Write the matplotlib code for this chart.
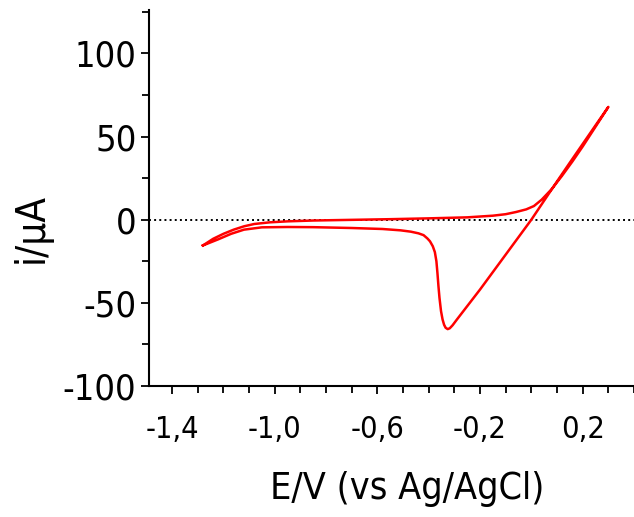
import matplotlib.pyplot as plt
from matplotlib.ticker import FixedLocator, MultipleLocator, FuncFormatter

# forward scan (cathodic end -> anodic vertex)
E_fwd = [-1.28, -1.24, -1.20, -1.16, -1.12, -1.08, -1.02, -0.95, -0.85, -0.70,
         -0.55, -0.40, -0.25, -0.15, -0.10, -0.06, -0.02, 0.01, 0.04, 0.08,
         0.12, 0.16, 0.20, 0.24, 0.28, 0.30]
i_fwd = [-15.5, -11.5, -8.5, -6.0, -4.0, -2.6, -1.6, -1.0, -0.5, -0.1,
         0.3, 0.8, 1.4, 2.4, 3.3, 4.6, 6.2, 8.2, 12.0, 18.5,
         26.5, 35.0, 44.0, 53.5, 63.0, 67.8]

# reverse scan (anodic vertex -> cathodic end)
E_rev = [0.30, 0.25, 0.20, 0.15, 0.10, 0.05, 0.00, -0.05, -0.10, -0.15,
         -0.20, -0.25, -0.27, -0.29, -0.307, -0.318, -0.326, -0.334, -0.340, -0.346,
         -0.352, -0.358, -0.362, -0.366, -0.370, -0.376, -0.384, -0.395, -0.405, -0.42,
         -0.44, -0.47, -0.51, -0.58, -0.70, -0.85, -0.95, -1.05, -1.12, -1.17,
         -1.22, -1.28]
i_rev = [67.8, 56.7, 45.5, 34.3, 23.0, 11.5, 0.0, -10.5, -21.0, -31.5,
         -42.0, -52.0, -56.0, -60.0, -63.5, -65.3, -65.8, -65.0, -63.2, -60.0,
         -55.0, -47.0, -40.0, -32.0, -25.0, -19.5, -16.0, -13.0, -11.3, -9.3,
         -8.2, -7.2, -6.4, -5.6, -5.0, -4.5, -4.4, -4.6, -6.0, -8.5,
         -11.8, -15.5]

xticks = [-1.4, -1.0, -0.6, -0.2, 0.2]
xtick_labels = ['-1,4', '-1,0', '-0,6', '-0,2', '0,2']
yticks = [-100, -50, 0, 50, 100]

plt.rcParams['font.family'] = ['DejaVu Sans']
plt.rcParams['font.stretch'] = 'condensed'
plt.rcParams['axes.unicode_minus'] = False

fig = plt.figure(figsize=(6.34, 5.17), dpi=100)
ax = fig.add_axes([0.235, 0.2534, 0.765, 0.727])

ax.axhline(0, color='black', linestyle=':', linewidth=1.4, zorder=1)
ax.plot(E_fwd + E_rev, i_fwd + i_rev, color='red', linewidth=1.8, zorder=2)

ax.set_xlim(-1.49, 0.40)
ax.set_ylim(-100, 126)

ax.xaxis.set_major_locator(FixedLocator(xticks))
ax.set_xticklabels(xtick_labels)
ax.xaxis.set_minor_locator(MultipleLocator(0.1))
ax.yaxis.set_major_locator(FixedLocator(yticks))
ax.yaxis.set_minor_locator(MultipleLocator(25))
ax.yaxis.set_major_formatter(FuncFormatter(lambda v, p: '%d' % v))

for s in ['top', 'right']:
    ax.spines[s].set_visible(False)
for s in ['left', 'bottom']:
    ax.spines[s].set_linewidth(1.5)

ax.tick_params(axis='both', which='both', direction='out', width=1.3)
ax.tick_params(axis='both', which='major', length=6)
ax.tick_params(axis='both', which='minor', length=5)
ax.tick_params(axis='y', which='major', labelsize=26, pad=3)
ax.tick_params(axis='x', which='major', labelsize=22, pad=15)

ax.set_xlabel('E/V (vs Ag/AgCl)', fontsize=27)
ax.xaxis.set_label_coords(0.532, -0.225)
ax.set_ylabel('i/µA', fontsize=29)
ax.yaxis.set_label_coords(-0.2, 0.42)

fig.savefig('out.png', dpi=100)
